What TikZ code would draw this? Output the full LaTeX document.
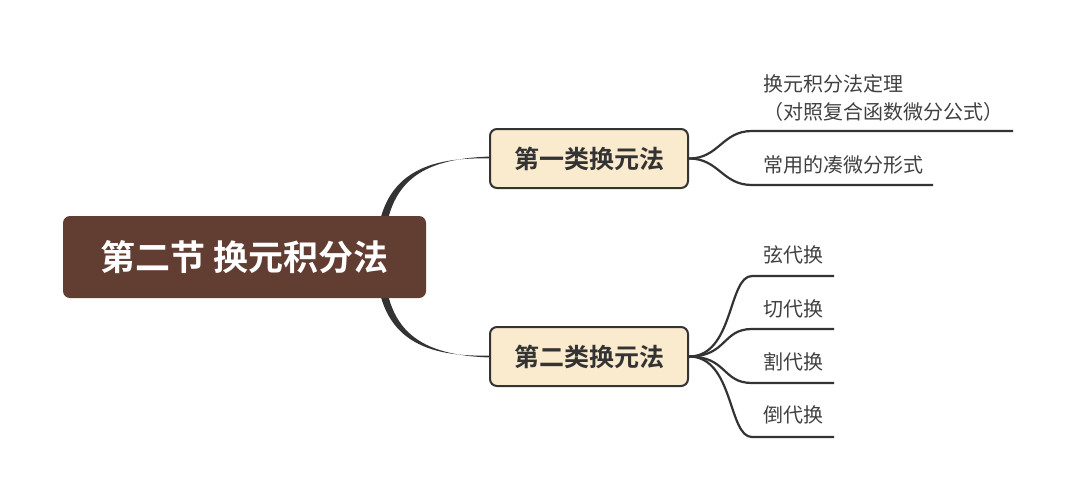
\documentclass[tikz,border=0pt]{standalone}
\usepackage{fontspec}
\setmainfont{Noto Sans CJK SC}[BoldFont={Noto Sans CJK SC Bold}]
\definecolor{rootbrown}{RGB}{98,61,49}
\definecolor{beige}{RGB}{250,234,206}
\definecolor{ink}{RGB}{51,51,51}
\definecolor{leafink}{RGB}{64,64,64}
\tikzset{
  rootbox/.style={fill=rootbrown, rounded corners=7pt, minimum width=363pt, minimum height=82pt,
    inner sep=0pt, text=white, font=\fontsize{35}{40}\selectfont\bfseries},
  subbox/.style={fill=beige, draw=ink, line width=2pt, rounded corners=7pt, minimum width=198pt,
    minimum height=59pt, inner sep=0pt, text=ink, font=\fontsize{25}{30}\selectfont\bfseries},
  leaftext/.style={anchor=base west, inner sep=0pt, text=leafink, font=\fontsize{20}{28}\selectfont, align=left},
  branch/.style={draw=ink, line width=2.2pt},
  taper/.style={fill=ink},
}
\begin{document}
\begin{tikzpicture}[x=1pt,y=-1pt]
\useasboundingbox (0,0) rectangle (1076,501);
% root-to-child tapered connectors (drawn first, behind the root)
\coordinate (t1a) at (376,257);
\coordinate (t1b) at (384,257);
\coordinate (c1w) at (490,157.5);
\coordinate (c2w) at (490,356.5);
\fill[taper] (t1a) .. controls (376,178) and (420,156.5) .. ([yshift=-1pt]c1w)
  -- ([yshift=1pt]c1w) .. controls (420,159) and (384,182) .. (t1b) -- cycle;
\fill[taper] (t1a) .. controls (376,336) and (420,357.5) .. ([yshift=1pt]c2w)
  -- ([yshift=-1pt]c2w) .. controls (420,355) and (384,332) .. (t1b) -- cycle;

\node[rootbox] (root) at (244.5,257) {第二节 换元积分法};
\node[subbox] (c1) at (589,158.5) {第一类换元法};
\node[subbox] (c2) at (589,356.5) {第二类换元法};

% leaves of c1
\coordinate (u1s) at (752,131);
\coordinate (u1e) at (1013,131);
\coordinate (u2s) at (752,185);
\coordinate (u2e) at (933,185);
\draw[branch] (c1.east) .. controls +(30,0) and +(-30,0) .. (u1s) -- (u1e);
\draw[branch] (c1.east) .. controls +(30,0) and +(-30,0) .. (u2s) -- (u2e);
\node[leaftext] (l1) at (763,119.5) {换元积分法定理\\（对照复合函数微分公式）};
\node[leaftext] (l2) at (763,172.5) {常用的凑微分形式};

% leaves of c2
\coordinate (v1s) at (752,276);
\coordinate (v1e) at (834,276);
\coordinate (v2s) at (752,329);
\coordinate (v2e) at (834,329);
\coordinate (v3s) at (752,383);
\coordinate (v3e) at (834,383);
\coordinate (v4s) at (752,437);
\coordinate (v4e) at (834,437);
\draw[branch] (c2.east) .. controls +(45,0) and +(-24,0) .. (v1s) -- (v1e);
\draw[branch] (c2.east) .. controls +(38,0) and +(-30,0) .. (v2s) -- (v2e);
\draw[branch] (c2.east) .. controls +(38,0) and +(-30,0) .. (v3s) -- (v3e);
\draw[branch] (c2.east) .. controls +(45,0) and +(-24,0) .. (v4s) -- (v4e);
\node[leaftext] (m1) at (763,262.5) {弦代换};
\node[leaftext] (m2) at (763,316.5) {切代换};
\node[leaftext] (m3) at (763,369.5) {割代换};
\node[leaftext] (m4) at (763,422.5) {倒代换};
\end{tikzpicture}
\end{document}
